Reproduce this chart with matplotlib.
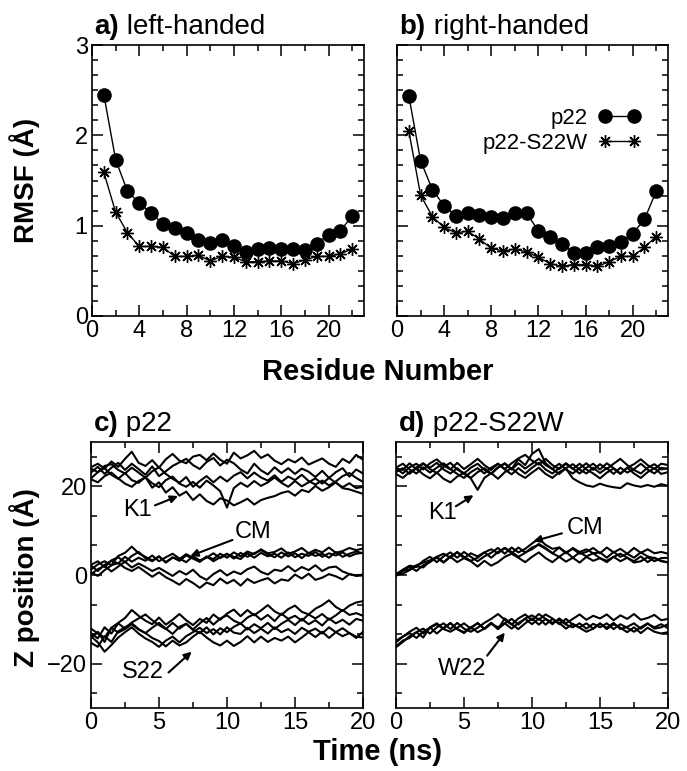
import matplotlib
matplotlib.use('Agg')
import matplotlib.pyplot as plt
from matplotlib.ticker import MultipleLocator, AutoMinorLocator

plt.rcParams['font.family'] = ['Liberation Sans', 'DejaVu Sans']

# RMSF per residue
residues = list(range(1, 23))
left_p22 = [2.45, 1.73, 1.38, 1.25, 1.14, 1.02, 0.97, 0.92, 0.84, 0.81, 0.84,
            0.77, 0.71, 0.74, 0.75, 0.74, 0.74, 0.73, 0.80, 0.90, 0.94, 1.11]
left_s22w = [1.59, 1.15, 0.92, 0.77, 0.77, 0.76, 0.66, 0.66, 0.67, 0.61, 0.66,
             0.65, 0.60, 0.60, 0.61, 0.61, 0.58, 0.62, 0.66, 0.66, 0.69, 0.74]
right_p22 = [2.44, 1.72, 1.40, 1.22, 1.11, 1.14, 1.12, 1.10, 1.09, 1.14, 1.14,
             0.94, 0.87, 0.80, 0.70, 0.70, 0.76, 0.77, 0.82, 0.91, 1.07, 1.38]
right_s22w = [2.05, 1.34, 1.10, 0.98, 0.92, 0.94, 0.85, 0.75, 0.72, 0.74, 0.71,
              0.65, 0.58, 0.55, 0.57, 0.57, 0.55, 0.60, 0.66, 0.66, 0.76, 0.88]

# Z position traces, read every 0.5 ns
time_ns = [i * 0.5 for i in range(41)]

p22_k1 = [
    [24.3, 25.1, 24.0, 25.6, 24.4, 26.2, 27.8, 25.3, 24.6, 25.9, 24.2, 26.1, 27.3, 25.8,
     25.2, 26.7, 27.1, 25.9, 27.4, 26.0, 25.1, 27.6, 26.3, 27.0, 28.0, 26.4, 27.2, 25.8,
     25.0, 26.1, 25.4, 26.5, 24.9, 25.6, 26.3, 25.1, 24.4, 26.2, 25.3, 27.1, 26.0],
    [23.1, 24.4, 22.8, 24.2, 25.3, 23.7, 25.1, 23.9, 22.6, 24.5, 22.3, 23.4, 24.6, 25.4,
     26.2, 24.8, 23.9, 25.5, 26.4, 24.7, 26.0, 25.2, 23.8, 22.9, 25.1, 23.6, 22.7, 24.3,
     23.0, 24.1, 22.8, 24.0, 23.3, 22.1, 23.5, 21.9, 23.2, 24.1, 22.2, 23.8, 22.9],
    [21.8, 23.2, 24.1, 22.6, 21.7, 23.0, 21.4, 20.8, 22.1, 19.7, 20.9, 18.6, 19.8, 17.9,
     18.8, 16.9, 18.2, 16.7, 15.9, 17.3, 16.8, 15.7, 16.4, 17.2, 15.9, 16.9, 17.4, 17.8,
     18.5, 18.9, 17.9, 19.2, 18.7, 20.1, 19.0, 19.8, 20.9, 19.6, 19.3, 18.8, 18.3],
    [21.6, 20.9, 22.3, 23.1, 21.8, 20.6, 19.9, 21.2, 22.0, 20.7, 19.8, 21.4, 22.2, 20.6,
     19.9, 21.0, 19.7, 21.3, 20.2, 18.9, 15.2, 19.6, 20.8, 19.9, 21.2, 20.1, 20.9, 22.0,
     20.8, 19.9, 21.2, 20.0, 20.9, 21.8, 20.6, 21.9, 20.8, 19.8, 20.7, 19.6, 19.9],
    [24.0, 23.2, 24.6, 25.0, 23.7, 22.9, 24.2, 23.1, 21.9, 23.4, 24.3, 22.8, 21.7, 20.8,
     22.1, 19.9, 21.2, 22.3, 20.9, 22.2, 21.1, 22.4, 23.2, 21.8, 23.1, 22.0, 21.3, 22.5,
     21.0, 22.2, 21.4, 22.6, 21.2, 20.4, 21.3, 20.2, 21.1, 22.3, 23.0, 21.9, 21.0],
]
p22_cm = [
    [1.2, 2.4, 3.1, 2.2, 4.3, 5.0, 6.4, 4.9, 4.1, 3.3, 4.2, 2.9, 4.0, 3.2, 4.4, 3.7,
     3.0, 4.1, 3.6, 4.8, 3.9, 5.1, 4.2, 5.3, 4.7, 5.8, 4.9, 5.2, 6.0, 4.8, 5.3, 6.1,
     4.9, 5.7, 5.1, 6.2, 5.0, 5.4, 6.1, 5.6, 6.0],
    [2.1, 0.9, 2.3, 3.2, 2.6, 4.1, 3.0, 3.9, 3.2, 4.4, 3.1, 4.0, 4.8, 3.7, 2.9, 4.2,
     3.3, 3.9, 4.9, 3.8, 4.7, 4.1, 3.6, 4.9, 3.9, 5.0, 4.2, 4.8, 3.9, 5.1, 4.0, 4.8,
     4.3, 5.2, 4.1, 4.9, 4.4, 5.1, 4.2, 4.8, 5.0],
    [0.2, 1.3, 2.1, 0.8, 1.9, 3.0, 1.7, 2.6, 1.8, 0.9, 1.6, 0.7, -0.2, 0.9, 0.1, 1.2,
     -0.3, -1.1, 0.2, 1.1, -0.1, 0.8, 0.2, 1.3, 1.9, 0.7, 0.1, 1.2, 0.9, 2.0, 0.8, 1.8,
     1.1, 2.2, 0.9, 1.7, 1.9, 0.8, 0.2, -0.1, 0.1],
    [0.6, -0.2, 1.1, 2.2, 2.7, 1.6, 0.9, 1.8, 0.7, -0.4, 0.6, -0.5, -1.3, -2.2, -0.9,
     -1.8, -2.9, -1.7, -2.3, -0.8, -1.9, -1.1, -2.4, -0.9, -1.8, -1.2, -0.7, -1.9, -1.0,
     -1.3, 0.1, -0.8, 0.3, -1.1, -0.6, 0.2, -0.3, -1.0, 0.2, -0.2, -0.1],
    [2.3, 3.1, 1.8, 3.3, 4.0, 2.9, 4.3, 5.2, 3.8, 3.1, 4.2, 2.8, 3.9, 3.6, 4.7, 3.9,
     3.0, 4.2, 3.1, 4.0, 4.8, 3.7, 5.0, 4.1, 4.9, 5.6, 4.7, 4.0, 5.1, 4.2, 4.9, 3.8,
     5.0, 4.3, 4.8, 3.9, 5.2, 4.1, 4.8, 5.3, 4.9],
]
p22_s22 = [
    [-14.2, -12.8, -15.1, -11.9, -10.8, -9.7, -7.9, -9.2, -10.3, -11.1, -9.6, -11.2,
     -10.1, -8.8, -10.2, -11.3, -9.9, -10.8, -8.9, -10.1, -8.7, -7.8, -9.3, -7.9, -9.1,
     -8.0, -6.8, -8.2, -9.0, -7.7, -6.9, -8.3, -8.9, -7.6, -6.8, -5.7, -7.2, -8.1, -6.9,
     -6.2, -5.9],
    [-13.1, -14.3, -11.8, -13.2, -10.9, -12.1, -10.7, -9.8, -8.9, -10.2, -11.3, -12.2,
     -10.8, -12.1, -11.0, -12.3, -10.9, -9.7, -11.2, -9.8, -9.1, -10.3, -11.0, -9.6,
     -8.8, -10.1, -9.0, -10.4, -8.7, -9.9, -9.2, -10.3, -8.9, -9.8, -8.8, -10.1, -9.1,
     -7.9, -9.0, -8.6, -9.2],
    [-15.3, -16.2, -13.8, -15.1, -12.7, -11.8, -10.9, -12.2, -13.1, -11.9, -10.8, -12.1,
     -13.3, -11.7, -11.0, -12.4, -13.1, -11.8, -13.4, -12.0, -12.9, -11.7, -10.9, -12.3,
     -11.1, -12.0, -10.8, -12.2, -11.0, -10.1, -11.3, -9.9, -11.1, -10.2, -11.4, -9.8,
     -10.9, -10.1, -11.2, -9.9, -10.3],
    [-13.8, -15.2, -17.3, -15.8, -14.1, -12.9, -11.8, -13.2, -14.3, -15.1, -16.2, -14.8,
     -13.9, -15.2, -13.8, -12.9, -11.9, -13.1, -12.2, -13.4, -11.8, -13.0, -13.3, -11.9,
     -13.1, -12.1, -13.2, -11.8, -12.9, -12.2, -13.3, -11.9, -12.8, -12.1, -13.2, -11.8,
     -12.9, -12.0, -13.1, -13.9, -14.1],
    [-12.1, -13.2, -14.1, -11.9, -13.0, -12.2, -11.1, -12.3, -13.1, -14.2, -14.9, -16.1,
     -14.8, -15.9, -15.2, -13.9, -12.8, -14.1, -15.2, -15.9, -14.8, -16.0, -15.1, -13.8,
     -15.2, -13.9, -15.1, -14.2, -14.8, -13.9, -15.2, -14.1, -12.9, -14.0, -12.8, -14.2,
     -12.9, -13.8, -13.1, -14.2, -12.8],
]

s22w_k1 = [
    [23.2, 24.1, 22.8, 24.3, 25.2, 23.9, 23.0, 24.4, 25.3, 23.8, 22.9, 24.2, 25.1, 23.7,
     22.8, 24.3, 25.2, 23.9, 26.1, 24.8, 27.3, 28.4, 25.2, 23.9, 25.1, 23.8, 22.9, 24.1,
     25.2, 23.7, 25.0, 23.9, 25.1, 26.2, 24.8, 23.7, 22.9, 24.2, 25.0, 23.8, 24.1],
    [24.1, 22.9, 24.3, 25.1, 23.8, 25.2, 26.1, 24.7, 23.8, 25.3, 23.9, 25.0, 26.2, 24.8,
     23.7, 25.1, 23.9, 25.2, 26.3, 27.1, 25.8, 24.9, 26.2, 24.8, 23.9, 25.1, 24.0, 22.9,
     24.2, 25.1, 23.8, 25.2, 24.1, 22.9, 24.2, 25.0, 26.1, 24.8, 23.9, 25.1, 24.8],
    [22.8, 21.9, 23.2, 24.0, 22.7, 21.8, 23.1, 21.7, 20.9, 22.2, 23.1, 21.8, 19.2, 21.9,
     23.0, 21.7, 23.2, 24.1, 22.8, 21.9, 23.1, 24.2, 22.8, 21.9, 23.2, 24.0, 21.8, 20.9,
     20.2, 19.9, 20.6, 20.1, 19.8, 19.6, 20.7, 20.2, 19.9, 20.3, 19.9, 20.5, 20.1],
    [24.2, 25.1, 23.8, 22.9, 24.3, 23.1, 24.2, 25.2, 23.9, 22.8, 21.9, 23.2, 24.1, 22.9,
     24.2, 25.1, 23.8, 22.7, 24.1, 22.9, 24.2, 25.3, 23.8, 22.9, 24.1, 25.2, 23.9, 25.1,
     23.8, 22.9, 21.8, 23.1, 24.0, 22.8, 24.2, 22.9, 21.9, 23.2, 24.1, 22.8, 23.2],
    [24.0, 23.7, 25.2, 23.8, 25.1, 24.2, 25.3, 23.8, 22.9, 24.1, 22.8, 21.9, 23.2, 24.1,
     22.9, 24.2, 25.1, 23.8, 25.2, 24.0, 25.1, 26.2, 24.8, 23.9, 22.8, 24.1, 25.0, 23.8,
     22.9, 24.2, 23.0, 24.1, 22.8, 24.2, 23.1, 23.9, 25.1, 23.8, 22.9, 24.2, 23.9],
]
s22w_cm = [
    [0.1, 1.2, 2.1, 1.8, 3.2, 4.1, 2.9, 4.2, 5.1, 3.9, 5.2, 4.1, 3.1, 4.2, 5.0, 6.1,
     4.8, 6.2, 5.1, 5.9, 7.1, 8.2, 6.8, 5.9, 6.2, 4.9, 6.1, 5.2, 5.8, 4.9, 5.1, 3.9,
     5.2, 4.1, 4.8, 3.9, 5.1, 4.2, 3.8, 3.1, 2.9],
    [-0.2, 0.9, 1.3, 2.2, 2.8, 3.3, 4.1, 2.9, 4.2, 5.1, 3.8, 4.9, 4.2, 5.1, 3.9, 5.2,
     6.1, 4.9, 6.2, 5.1, 5.8, 7.0, 6.1, 4.9, 6.2, 5.1, 5.9, 4.8, 5.2, 6.1, 4.9, 6.2,
     5.1, 5.9, 4.8, 6.1, 5.0, 5.8, 4.9, 5.2, 4.8],
    [0.0, 0.3, 1.1, 2.0, 1.7, 3.1, 3.9, 2.8, 4.1, 2.9, 3.8, 3.1, 1.9, 3.2, 2.1, 2.9,
     4.1, 4.8, 3.9, 2.9, 4.1, 5.1, 3.8, 2.9, 4.1, 3.0, 3.9, 2.8, 4.1, 3.2, 3.8, 2.9,
     4.1, 3.1, 3.9, 2.8, 3.1, 4.0, 3.1, 3.8, 3.9],
    [0.2, 1.1, 1.9, 0.9, 2.2, 2.9, 4.1, 4.8, 3.9, 5.2, 4.1, 3.2, 3.9, 5.1, 5.8, 4.9,
     6.1, 5.2, 4.1, 5.0, 6.2, 6.8, 5.9, 4.9, 4.1, 5.2, 3.9, 5.1, 4.2, 4.9, 3.8, 3.2,
     4.1, 4.8, 3.9, 3.1, 4.2, 2.9, 3.9, 3.2, 2.8],
]
s22w_w22 = [
    [-16.1, -14.8, -14.2, -12.9, -12.1, -13.2, -11.8, -10.9, -12.2, -10.8, -12.1, -12.8,
     -11.9, -10.8, -9.9, -8.8, -10.1, -11.2, -9.8, -8.9, -10.2, -8.8, -9.9, -11.1, -9.8,
     -10.9, -9.9, -8.9, -10.1, -9.2, -9.8, -8.9, -10.2, -9.1, -9.9, -8.8, -10.1, -9.7,
     -9.0, -10.2, -9.9],
    [-15.2, -13.9, -13.1, -14.2, -12.8, -11.9, -11.1, -12.2, -12.8, -11.9, -10.9, -12.1,
     -10.8, -12.2, -11.0, -11.8, -10.9, -9.9, -11.2, -9.8, -9.1, -10.1, -8.9, -9.8, -11.1,
     -9.9, -11.2, -11.8, -10.9, -12.1, -11.0, -11.9, -10.8, -12.2, -11.7, -10.9, -12.1,
     -11.0, -11.8, -11.1, -12.0],
    [-16.3, -15.1, -13.8, -12.9, -14.1, -11.8, -13.2, -11.9, -10.9, -12.2, -13.1, -11.8,
     -12.9, -12.1, -10.8, -12.2, -10.9, -12.1, -10.8, -9.9, -11.1, -9.8, -11.2, -9.9,
     -10.8, -12.1, -11.0, -11.9, -12.8, -12.1, -10.9, -12.2, -11.1, -11.9, -12.9, -11.8,
     -13.1, -11.9, -12.8, -13.2, -12.9],
    [-14.8, -13.9, -12.8, -11.9, -13.2, -11.8, -10.9, -12.1, -10.8, -12.2, -12.9, -11.8,
     -10.9, -12.1, -10.8, -12.2, -9.8, -11.1, -12.2, -10.9, -9.8, -11.2, -9.9, -10.8,
     -10.1, -11.2, -11.8, -10.9, -12.1, -11.0, -11.8, -10.9, -12.2, -11.1, -11.9, -12.8,
     -11.8, -10.9, -12.1, -11.8, -11.1],
]

W, H = 687, 771
fig = plt.figure(figsize=(W / 100, H / 100), dpi=100)


def box(l, t, r, b):
    return [l / W, 1 - b / H, (r - l) / W, (b - t) / H]


ax_a = fig.add_axes(box(92, 45, 364, 316))
ax_b = fig.add_axes(box(397, 45, 668, 316))
ax_c = fig.add_axes(box(91, 442, 363, 708))
ax_d = fig.add_axes(box(396, 442, 668, 708))


def style(ax):
    for s in ax.spines.values():
        s.set_linewidth(1.2)
    ax.tick_params(which='both', direction='in', top=True, right=True,
                   labelsize=17, width=1.1, pad=3)
    ax.tick_params(which='major', length=8)
    ax.tick_params(which='minor', length=4.5)


# top panels: RMSF
for ax, p, s in [(ax_a, left_p22, left_s22w), (ax_b, right_p22, right_s22w)]:
    ax.plot(residues, p, color='k', lw=1.0, marker='o', ms=9.5, label='p22')
    ax.plot(residues, s, color='k', lw=1.0, marker=(8, 2, 0), ms=9,
            mew=1.0, label='p22-S22W')
    ax.set_xlim(0, 23)
    ax.set_ylim(0, 3)
    ax.xaxis.set_major_locator(MultipleLocator(4))
    ax.xaxis.set_minor_locator(MultipleLocator(2))
    ax.yaxis.set_major_locator(MultipleLocator(1))
    ax.yaxis.set_minor_locator(AutoMinorLocator(6))
    style(ax)
ax_b.set_yticklabels([])
ax_b.legend(loc='upper right', bbox_to_anchor=(0.94, 0.81), frameon=False,
            numpoints=2, markerfirst=False, fontsize=16, handlelength=1.9,
            handletextpad=0.5, labelspacing=0.2, borderpad=0)

# bottom panels: Z position traces
for ax, groups in [(ax_c, [p22_k1, p22_cm, p22_s22]),
                   (ax_d, [s22w_k1, s22w_cm, s22w_w22])]:
    for g in groups:
        for tr in g:
            ax.plot(time_ns, tr, color='k', lw=1.5)
    ax.set_xlim(0, 20)
    ax.set_ylim(-30, 30)
    ax.xaxis.set_major_locator(MultipleLocator(5))
    ax.xaxis.set_minor_locator(MultipleLocator(2.5))
    ax.yaxis.set_major_locator(MultipleLocator(20))
    ax.yaxis.set_minor_locator(AutoMinorLocator(3))
    style(ax)
ax_d.set_yticklabels([])

arrow = dict(arrowstyle='-|>', lw=1.5, color='k', mutation_scale=11,
             shrinkA=0, shrinkB=0)
notes_c = [('K1', (3.4, 14.6), (4.7, 15.7), (6.4, 17.8)),
           ('CM', (11.9, 9.7), (10.4, 7.9), (7.3, 4.3)),
           ('S22', (3.8, -21.8), (5.7, -22.0), (7.4, -17.3))]
notes_d = [('K1', (3.45, 13.9), (4.4, 15.5), (5.7, 18.0)),
           ('CM', (13.9, 10.6), (12.2, 9.4), (10.1, 7.6)),
           ('W22', (4.9, -21.3), (6.7, -18.2), (8.0, -13.0))]
for ax, notes in [(ax_c, notes_c), (ax_d, notes_d)]:
    for txt, tpos, a0, a1 in notes:
        ax.text(tpos[0], tpos[1], txt, fontsize=17, ha='center', va='center')
        ax.annotate('', xy=a1, xytext=a0, arrowprops=arrow)

# panel titles
for ax, tag, name in [(ax_a, 'a)', 'left-handed'), (ax_b, 'b)', 'right-handed'),
                      (ax_c, 'c)', 'p22'), (ax_d, 'd)', 'p22-S22W')]:
    t = ax.text(0.01, 1.02, tag, transform=ax.transAxes, fontsize=20,
                fontweight='bold', ha='left', va='bottom')
    ax.annotate(' ' + name, xycoords=t, xy=(1, 0), fontsize=20,
                ha='left', va='bottom')

# axis labels
fig.text(25 / W, 1 - 180 / H, 'RMSF (Å)', rotation=90, fontsize=20,
         fontweight='bold', ha='center', va='center')
fig.text(25 / W, 1 - 578 / H, 'Z position (Å)', rotation=90, fontsize=20,
         fontweight='bold', ha='center', va='center')
fig.text(378 / W, 1 - 372 / H, 'Residue Number', fontsize=21,
         fontweight='bold', ha='center', va='center')
fig.text(378 / W, 1 - 752 / H, 'Time (ns)', fontsize=21,
         fontweight='bold', ha='center', va='center')

fig.savefig('out.png', dpi=100)
